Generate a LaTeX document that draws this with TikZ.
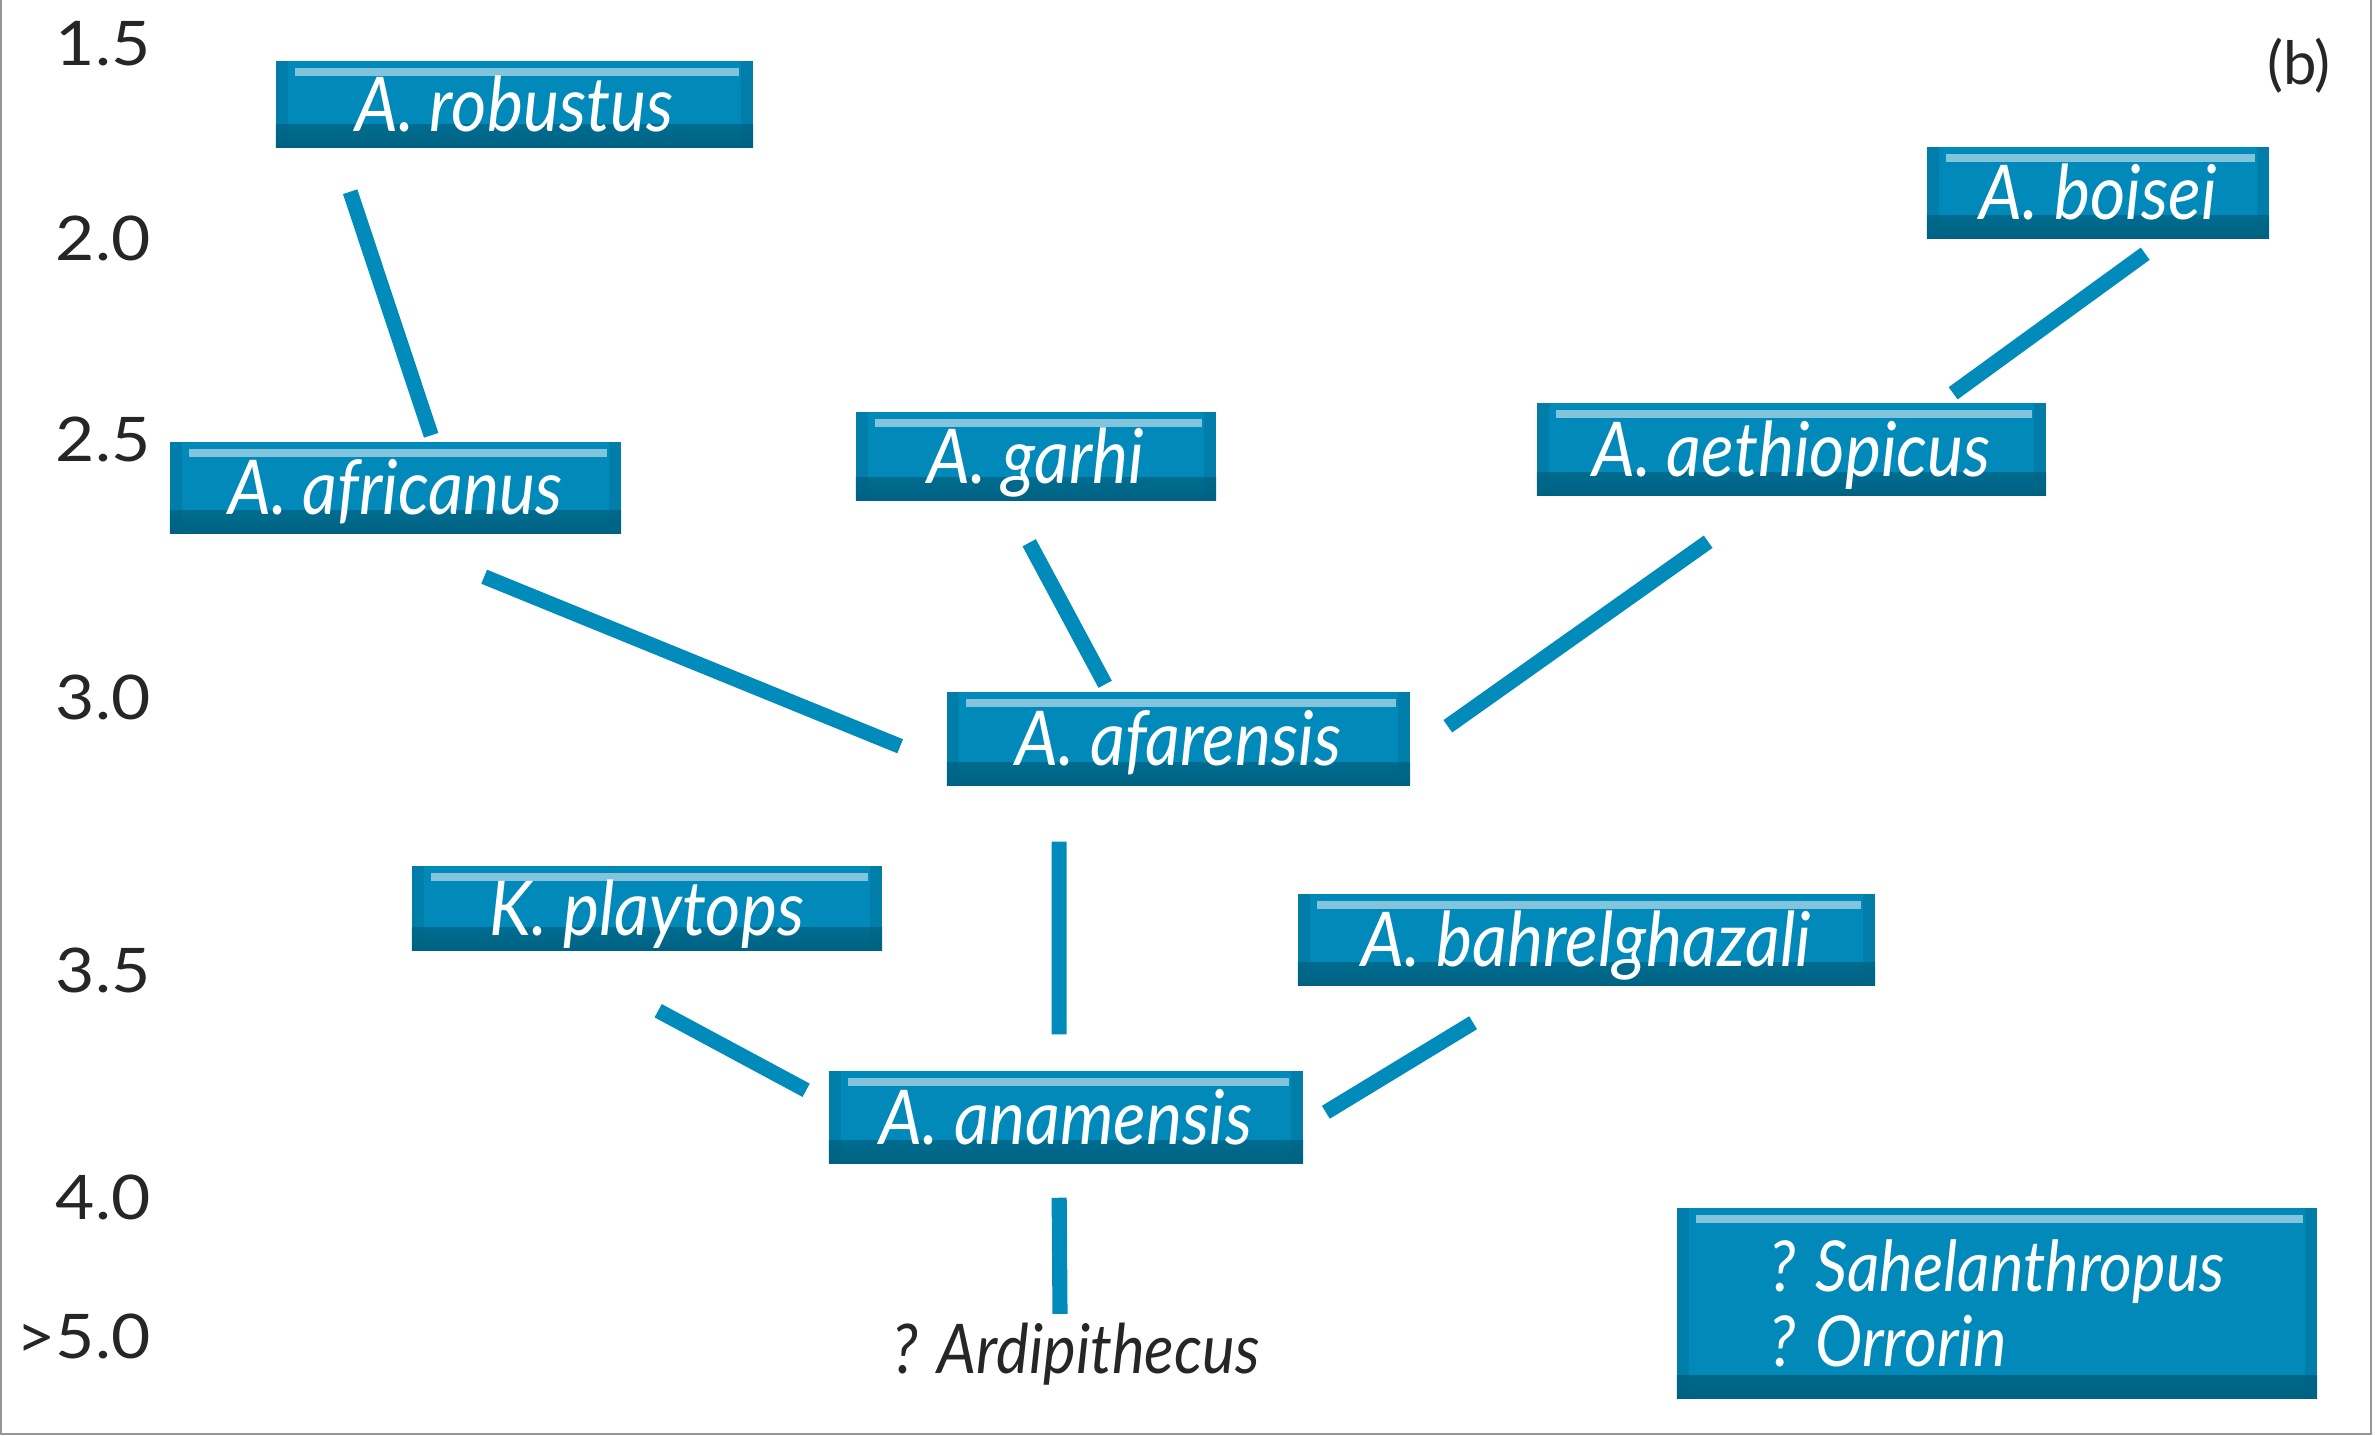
\documentclass[tikz,border=0pt]{standalone}
\usepackage{fontspec}
\setmainfont{Lato}
\newfontfamily\speciesfont{Lato}[FakeStretch=0.9]
\newfontfamily\tickfont{Lato}[FakeStretch=1.1]
\usetikzlibrary{calc}
\definecolor{boxblue}{RGB}{0,137,185}
\definecolor{boxdark}{RGB}{0,98,130}
\definecolor{boxlight}{RGB}{130,196,220}
\definecolor{linkblue}{RGB}{0,139,187}
\definecolor{framegray}{RGB}{150,150,150}

\begin{document}
\begin{tikzpicture}[x=0.01cm, y=-0.01cm,
    species/.style = {fill=boxblue, text=white, inner sep=0pt,
        text height=15.5pt, text depth=0pt,
        font=\speciesfont\itshape\fontsize{21.5}{25}\selectfont,
        path picture={
            \shade[top color=boxblue, bottom color=boxdark]
                ([yshift=6.5pt]path picture bounding box.south west) rectangle (path picture bounding box.south east);
            \fill[boxdark, opacity=0.3]
                (path picture bounding box.south west) rectangle ([xshift=3.4pt]path picture bounding box.north west);
            \fill[boxdark, opacity=0.3]
                (path picture bounding box.south east) rectangle ([xshift=-3.4pt]path picture bounding box.north east);
            \fill[boxlight]
                ([xshift=5.5pt,yshift=-2pt]path picture bounding box.north west) rectangle ([xshift=-4pt,yshift=-4.2pt]path picture bounding box.north east);
        }},
    link/.style = {draw=linkblue, line width=4.3pt},
    tick/.style = {anchor=east, inner sep=0pt, text height=12.6pt, text depth=0pt,
        font=\tickfont\fontsize{17.5}{20}\selectfont, text=black!85}]

    \useasboundingbox (0,0) rectangle (2375,1436);

    % Frame
    \draw[framegray, line width=0.8pt] (1,0) -- (1,1434) -- (2371,1434) -- (2371,0);

    % Time axis
    \foreach \yy/\lab/\nm in {43/1.5/t15, 238/2.0/t20, 439/2.5/t25, 697/3.0/t30,
                              970/3.5/t35, 1197/4.0/t40, 1336/>5.0/t50}
        \node[tick] (\nm) at (151,\yy) {\lab};

    \node[font=\fontsize{17}{20}\selectfont, text=black!85] (panel) at (2299,66) {(b)};

    % Species
    \node[species, minimum width=4.77cm, minimum height=0.86cm] (robustus) at (514.5,104) {A. robustus};
    \node[species, minimum width=3.42cm, minimum height=0.91cm] (boisei) at (2098,192.5) {A. boisei};
    \node[species, minimum width=4.51cm, minimum height=0.91cm] (africanus) at (395.5,487.5) {A. africanus};
    \node[species, minimum width=3.60cm, minimum height=0.88cm] (garhi) at (1036,456) {A. garhi};
    \node[species, minimum width=5.09cm, minimum height=0.92cm] (aethiopicus) at (1791.5,449) {A. aethiopicus};
    \node[species, minimum width=4.63cm, minimum height=0.93cm] (afarensis) at (1178.5,738.5) {A. afarensis};
    \node[species, minimum width=4.70cm, minimum height=0.84cm] (playtops) at (647,908) {K. playtops};
    \node[species, minimum width=5.77cm, minimum height=0.91cm] (bahrelghazali) at (1586.5,939.5) {A. bahrelghazali};
    \node[species, minimum width=4.74cm, minimum height=0.92cm] (anamensis) at (1066,1117) {A. anamensis};
    \node[species, minimum width=6.40cm, minimum height=1.90cm, align=left,
          text height={}, text depth={}, font=\speciesfont\itshape\fontsize{20}{21.3}\selectfont]
          (sahel) at (1997,1303) {? Sahelanthropus\\? Orrorin};

    \node[anchor=base, inner sep=0pt, text=black!85,
          font=\speciesfont\itshape\fontsize{19.5}{22}\selectfont] (ardi) at (1076,1373) {? Ardipithecus};

    % Links
    \draw[link] ($(robustus.south west)+(75,44)$) -- ($(africanus.north west)+(262,-6)$);
    \draw[link] ($(boisei.south west)+(219,15)$) -- ($(aethiopicus.north west)+(417,-9)$);
    \draw[link] ($(africanus.south west)+(315,43)$) -- ($(afarensis.north west)+(-46,55)$);
    \draw[link] ($(garhi.south west)+(174,42)$) -- ($(afarensis.north west)+(159,-7)$);
    \draw[link] ($(aethiopicus.south west)+(172,46)$) -- ($(afarensis.north east)+(37,35)$);
    \draw[link] ($(afarensis.south west)+(113,56)$) -- ($(anamensis.north west)+(231,-36)$);
    \draw[link] ($(playtops.south west)+(247,60)$) -- ($(anamensis.north west)+(-22,20)$);
    \draw[link] ($(bahrelghazali.south west)+(176,37)$) -- ($(anamensis.north east)+(22,42)$);
    \draw[link] ($(anamensis.south west)+(231,34)$) -- ($(ardi.north)+(-16,-8)$);
\end{tikzpicture}
\end{document}
